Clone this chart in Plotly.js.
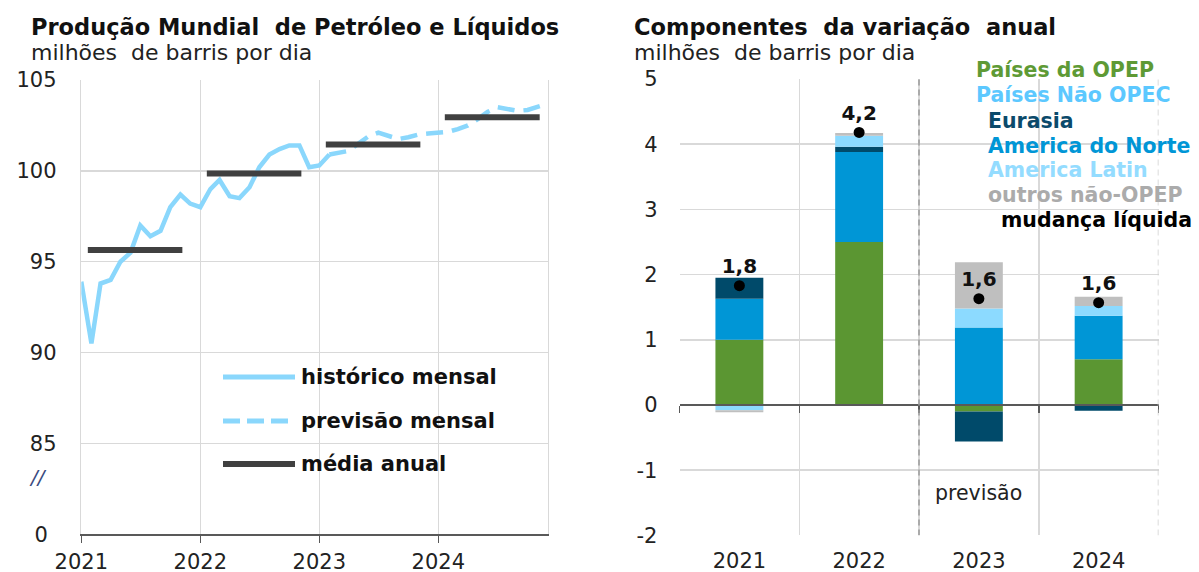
<!DOCTYPE html>
<html>
<head>
<meta charset="utf-8">
<script src="https://cdn.plot.ly/plotly-3.0.1.min.js"></script>
<style>
  html, body { margin: 0; padding: 0; background: #fff; }
  #chart { width: 1199px; height: 572px; }
</style>
</head>
<body>
<div id="chart"></div>
<script>
// ---- left panel: world production, million b/d (Jan 2021 ...)
var histValues = [93.9, 90.5, 93.8, 94.0, 95.0, 95.5, 97.0, 96.4, 96.7, 98.0, 98.7, 98.2,
                  98.0, 99.0, 99.5, 98.6, 98.5, 99.1, 100.2, 100.9, 101.2, 101.4, 101.4, 100.2,
                  100.3, 100.9];
// forecast starts Feb 2023
var fcstValues = [100.9, 101.0, 101.1, 101.5, 101.9, 102.1, 101.9, 101.75, 101.85, 102.0, 102.05,
                  102.1, 102.15, 102.3, 102.5, 102.85, 103.25, 103.5, 103.4, 103.3, 103.35, 103.55, 103.7];
var annualYears = ["2021", "2022", "2023", "2024"];
var annualAvg = [95.65, 99.85, 101.45, 102.95];
var leftTickVals = [80, 85, 90, 95, 100, 105];
var leftTickText = ["0\u00a0\u200a", "85", "90", "95", "100", "105"];

// ---- right panel: components of annual change
var years = ["2021", "2022", "2023", "2024"];
var opep = [1.0, 2.5, -0.1, 0.7];
var nAmerica = [0.63, 1.38, 1.19, 0.67];
var eurasia = [0.32, 0.08, -0.46, -0.09];
var latin = [-0.08, 0.17, 0.29, 0.15];
var others = [-0.03, 0.04, 0.71, 0.14];
var netChange = [1.83, 4.18, 1.63, 1.57];
var rightTickVals = [-2, -1, 0, 1, 2, 3, 4, 5];
var rightTickText = ["-2", "-1", "0", "1", "2", "3", "4", "5"];

var FONT = "DejaVu Sans";
var W = 1199, H = 572;
function px(x) { return x / W; }
function py(y) { return 1 - y / H; }

function monthDate(i) {
  var y = 2021 + Math.floor(i / 12), m = i % 12 + 1;
  return y + "-" + (m < 10 ? "0" : "") + m + "-01";
}
var histDates = histValues.map(function (v, i) { return monthDate(i); });
var fcstDates = fcstValues.map(function (v, i) { return monthDate(i + 25); });

var avgX = [], avgY = [];
annualYears.forEach(function (yr, i) {
  avgX.push(yr + "-01-21", yr + "-11-07", null);
  avgY.push(annualAvg[i], annualAvg[i], null);
});

var lightBlue = "#8AD7FC";
var dark = "#404040";

var traces = [
  { x: histDates, y: histValues, mode: "lines", xaxis: "x", yaxis: "y",
    line: { color: lightBlue, width: 4.5 }, showlegend: false },
  { x: fcstDates, y: fcstValues, mode: "lines", xaxis: "x", yaxis: "y",
    line: { color: lightBlue, width: 4.5, dash: "17px,9px" }, showlegend: false },
  { x: avgX, y: avgY, mode: "lines", xaxis: "x", yaxis: "y",
    line: { color: dark, width: 6 }, showlegend: false }
];

var barSeries = [
  { name: "Países da OPEP", y: opep, color: "#5B9632" },
  { name: "America do Norte", y: nAmerica, color: "#0096D6" },
  { name: "Eurasia", y: eurasia, color: "#004A6A" },
  { name: "America Latin", y: latin, color: "#8CDAFF" },
  { name: "outros não-OPEP", y: others, color: "#BFBFBF" }
];
barSeries.forEach(function (s) {
  traces.push({ type: "bar", x: years, y: s.y, name: s.name, xaxis: "x2", yaxis: "y2",
    marker: { color: s.color, line: { width: 0 } }, showlegend: false });
});

traces.push({
  x: years, y: netChange, mode: "markers+text", xaxis: "x3", yaxis: "y2",
  text: netChange.map(function (v) { return v.toFixed(1).replace(".", ","); }),
  textposition: "top center",
  textfont: { family: FONT, size: 20, color: "#111", weight: "bold" },
  marker: { color: "#000", size: 11 }, showlegend: false
});

var L = { x: [px(81.3), px(547.5)], y: [py(534.3), py(80)] };
var R = { x: [px(679.5), px(1158.5)], y: [py(535.4), py(79)] };
var zeroPos = R.y[0] + (2 / 7) * (R.y[1] - R.y[0]);

var grid = "#d9d9d9";
var axisDark = "#595959";
var tickFont = { family: FONT, size: 21, color: "#222" };
var yearFont = { family: FONT, size: 21, color: "#222" };

var annotations = [
  { text: "Produção Mundial  de Petróleo e Líquidos", x: px(29), y: py(27),
    font: { family: FONT, size: 22.5, color: "#111", weight: "bold" } },
  { text: "milhões  de barris por dia", x: px(29), y: py(52),
    font: { family: FONT, size: 22, color: "#222" } },
  { text: "Componentes  da variação  anual", x: px(632), y: py(27),
    font: { family: FONT, size: 22.5, color: "#111", weight: "bold" } },
  { text: "milhões  de barris por dia", x: px(632), y: py(52),
    font: { family: FONT, size: 22, color: "#222" } },
  { text: "//", x: px(38), y: py(477), xanchor: "center",
    font: { family: FONT, size: 20, color: "#3a4a80", style: "italic" } },
  { text: "previsão", xref: "x2", yref: "y2", x: 2, y: -1.35, xanchor: "center",
    font: { family: FONT, size: 20.5, color: "#222" } }
].map(function (a) {
  return Object.assign({ xref: "paper", yref: "paper", xanchor: "left", yanchor: "middle",
    showarrow: false }, a);
});

// left legend
var leftLegend = [
  { label: "histórico mensal", y: 377, color: lightBlue, dash: "solid", w: 5 },
  { label: "previsão mensal", y: 421, color: lightBlue, dash: "17px,7px", w: 5 },
  { label: "média anual", y: 464, color: dark, dash: "solid", w: 6 }
];
var shapes = [];
leftLegend.forEach(function (e) {
  shapes.push({ type: "line", xref: "paper", yref: "paper", x0: px(223), x1: px(295),
    y0: py(e.y), y1: py(e.y), line: { color: e.color, width: e.w, dash: e.dash } });
  annotations.push({ text: e.label, xref: "paper", yref: "paper", x: px(299), y: py(e.y),
    xanchor: "left", yanchor: "middle", showarrow: false,
    font: { family: FONT, size: 21, color: "#111", weight: "bold" } });
});

// right legend (text only)
var rightLegend = [
  { label: "Países da OPEP", x: 974, y: 70, color: "#5E9A35" },
  { label: "Países Não OPEC", x: 974, y: 95, color: "#5CC8FF" },
  { label: "Eurasia", x: 986, y: 121, color: "#0B4A6B" },
  { label: "America do Norte", x: 986, y: 146, color: "#0096D6" },
  { label: "America Latin", x: 986, y: 170, color: "#94DCFF" },
  { label: "outros não-OPEP", x: 986, y: 195, color: "#ABABAB" },
  { label: "mudança líquida", x: 999, y: 220, color: "#000" }
];
rightLegend.forEach(function (e) {
  annotations.push({ text: e.label, xref: "paper", yref: "paper", x: px(e.x), y: py(e.y),
    xanchor: "left", yanchor: "middle", showarrow: false,
    font: { family: FONT, size: 20.5, color: e.color, weight: "bold" } });
});

// forecast divider and right edge
shapes.push({ type: "line", xref: "x2", yref: "y2", x0: 1.5, x1: 1.5, y0: -2, y1: 5,
  line: { color: "#9a9a9a", width: 1.5, dash: "6px,4px" } });
shapes.push({ type: "line", xref: "x2", yref: "y2", x0: 3.5, x1: 3.5, y0: -2, y1: 5,
  line: { color: "#cfcfcf", width: 1.5, dash: "6px,4px" } });

var layout = {
  width: W, height: H,
  margin: { l: 0, r: 0, t: 0, b: 0 },
  paper_bgcolor: "#fff", plot_bgcolor: "#fff",
  showlegend: false,
  barmode: "relative", bargap: 0.6,
  font: { family: FONT, color: "#222" },
  xaxis: {
    domain: L.x, anchor: "y", type: "date",
    range: ["2021-01-01", "2024-12-01"],
    tickvals: annualYears.map(function (y) { return y + "-01-01"; }),
    ticktext: annualYears,
    showgrid: true, gridcolor: grid, gridwidth: 1.5,
    showline: true, linecolor: axisDark, linewidth: 2,
    ticks: "outside", ticklen: 7, tickcolor: axisDark, tickwidth: 1.5,
    tickfont: yearFont, zeroline: false
  },
  yaxis: {
    domain: L.y, anchor: "x", range: [80, 105],
    tickvals: leftTickVals, ticktext: leftTickText,
    showgrid: true, gridcolor: grid, gridwidth: 1.5,
    showline: true, mirror: true, linecolor: grid, linewidth: 1.5,
    ticks: "", ticklabelstandoff: 19, tickfont: tickFont, zeroline: false
  },
  xaxis2: {
    domain: R.x, anchor: "y2", type: "category", range: [-0.5, 3.5],
    tickson: "boundaries", showgrid: true, gridcolor: grid, gridwidth: 1.5,
    ticks: "", showline: false, ticklabelstandoff: 11, tickfont: yearFont, zeroline: false
  },
  xaxis3: {
    overlaying: "x2", anchor: "free", position: zeroPos, type: "category",
    range: [-0.5, 3.5], tickson: "boundaries",
    ticks: "outside", ticklen: 7, tickcolor: axisDark, tickwidth: 1.5,
    showline: true, linecolor: axisDark, linewidth: 2,
    showgrid: false, showticklabels: false, zeroline: false
  },
  yaxis2: {
    domain: R.y, anchor: "x2", range: [-2, 5],
    tickvals: rightTickVals, ticktext: rightTickText,
    showgrid: true, gridcolor: grid, gridwidth: 1.5,
    ticks: "", showline: false, zeroline: false,
    ticklabelstandoff: 21, tickfont: tickFont
  },
  annotations: annotations,
  shapes: shapes
};

Plotly.newPlot("chart", traces, layout, { staticPlot: true, displayModeBar: false });
</script>
</body>
</html>
